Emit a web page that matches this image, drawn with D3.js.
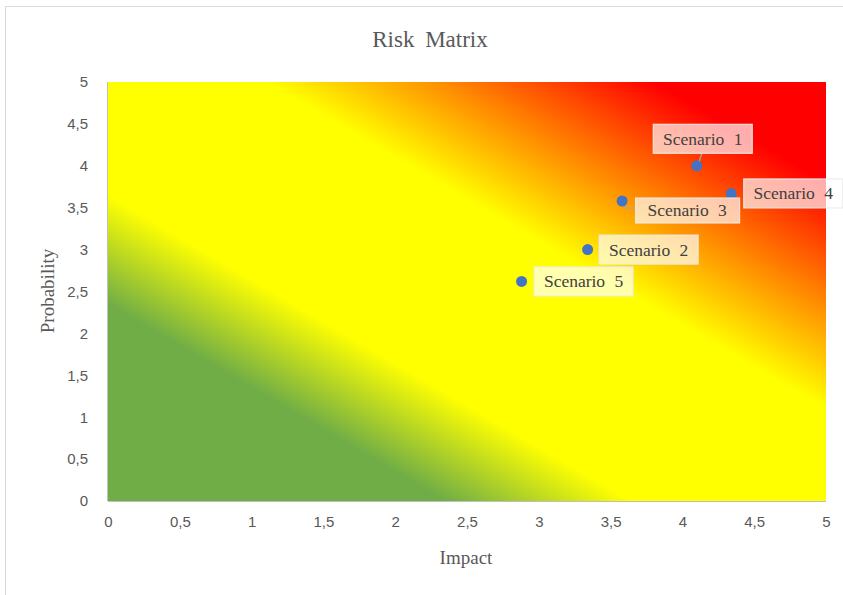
<!DOCTYPE html>
<html><head><meta charset="utf-8">
<script src="https://cdn.jsdelivr.net/npm/d3@7"></script>
<style>
html,body{margin:0;padding:0;background:#fff;}
svg{display:block;}
</style></head>
<body>
<svg id="c" width="843" height="595"></svg>
<script>
// ---- data ----
const scenarios = ["Scenario 1","Scenario 2","Scenario 3","Scenario 4","Scenario 5"];
const impact      = [4.1, 3.34, 3.58, 4.34, 2.88];
const probability = [4.0, 3.0, 3.58, 3.67, 2.62];
const xTicks = [0,0.5,1,1.5,2,2.5,3,3.5,4,4.5,5];
const yTicks = [0,0.5,1,1.5,2,2.5,3,3.5,4,4.5,5];
const tickLabel = v => String(v).replace(".", ",");
// label placement (offset of label box centre from its point, px)
const labelOffsets = [[6,-27],[61,0],[63,9],[62,0],[62,0]];

const svg = d3.select("#c");
const W = 843, H = 595;
const m = {left:108, right:826, top:82, bottom:501};

// chart border
svg.append("rect").attr("x",5.5).attr("y",6.5).attr("width",W+10).attr("height",H+10)
  .attr("fill","#fff").attr("stroke","#d9d9d9").attr("stroke-width",1);

const x = d3.scaleLinear().domain([0,5]).range([m.left,m.right]);
const y = d3.scaleLinear().domain([0,5]).range([m.bottom,m.top]);

// gradient
const defs = svg.append("defs");
const g = defs.append("linearGradient").attr("id","risk")
  .attr("x1",0).attr("y1",1).attr("x2",1).attr("y2",0);
[[0,"#70AD47"],[0.235,"#70AD47"],[0.365,"#FFFF00"],[0.61,"#FFFF00"],[0.88,"#FF0000"],[1,"#FF0000"]]
  .forEach(([o,c])=>g.append("stop").attr("offset",o).attr("stop-color",c));

svg.append("rect").attr("x",x(0)).attr("y",y(5))
  .attr("width",x(5)-x(0)).attr("height",y(0)-y(5)).attr("fill","url(#risk)");

// axes lines
svg.append("line").attr("x1",x(0)).attr("x2",x(5)).attr("y1",y(0)+0.5).attr("y2",y(0)+0.5)
  .attr("stroke","#bfbfbf");
svg.append("line").attr("x1",x(0)-0.5).attr("x2",x(0)-0.5).attr("y1",y(0)).attr("y2",y(5))
  .attr("stroke","#bfbfbf");

const tickFont = "'Liberation Sans', Arial, sans-serif";
// x axis
const xa = svg.append("g").attr("transform",`translate(0,${m.bottom})`)
  .call(d3.axisBottom(x).tickValues(xTicks).tickFormat(tickLabel).tickSize(0).tickPadding(15));
xa.select(".domain").remove();
xa.selectAll("text").attr("fill","#595959").style("font-family",tickFont).style("font-size","15px");
// y axis
const ya = svg.append("g").attr("transform",`translate(${m.left},0)`)
  .call(d3.axisLeft(y).tickValues(yTicks).tickFormat(tickLabel).tickSize(0).tickPadding(20));
ya.select(".domain").remove();
ya.selectAll("text").attr("fill","#595959").style("font-family",tickFont).style("font-size","15px");

const serif = "'Liberation Serif','Times New Roman',serif";
// title
svg.append("text").attr("x",430).attr("y",47).attr("text-anchor","middle")
  .attr("fill","#595959").style("font-family",serif).style("font-size","23px")
  .style("word-spacing","5px").text("Risk Matrix");
// axis titles
svg.append("text").attr("x",466).attr("y",564).attr("text-anchor","middle")
  .attr("fill","#595959").style("font-family",serif).style("font-size","19px").text("Impact");
svg.append("text").attr("transform",`translate(54,291) rotate(-90)`).attr("text-anchor","middle")
  .attr("fill","#595959").style("font-family",serif).style("font-size","19px").text("Probability");

// points & labels
const data = scenarios.map((s,i)=>({name:s, x:impact[i], y:probability[i], off:labelOffsets[i]}));
const bw = 99, bh = 29;

// leader lines
data.forEach(d=>{
  const px = x(d.x), py = y(d.y), cx = px+d.off[0], cy = py+d.off[1];
  if (d.name==="Scenario 1") {
    svg.append("line").attr("x1",px+2).attr("y1",py-3).attr("x2",cx-1).attr("y2",cy+bh/2)
      .attr("stroke","#a6a6a6").attr("stroke-width",1.2);
  } else if (d.name==="Scenario 3") {
    svg.append("polyline").attr("points",`${px+1},${py+2} ${px+3},${cy-2} ${cx-bw/2},${cy-2}`)
      .attr("fill","none").attr("stroke","#a6a6a6").attr("stroke-width",1.2);
  }
});

svg.selectAll("circle.pt").data(data).join("circle").attr("class","pt")
  .attr("cx",d=>x(d.x)).attr("cy",d=>y(d.y)).attr("r",5.5).attr("fill","#4472C4");

const lg = svg.selectAll("g.lbl").data(data).join("g").attr("class","lbl")
  .attr("transform",d=>`translate(${x(d.x)+d.off[0]},${y(d.y)+d.off[1]})`);
lg.append("rect").attr("x",-bw/2).attr("y",d=>d.name==="Scenario 3"?-12:-bh/2)
  .attr("width",d=>d.name==="Scenario 3"?104:bw).attr("height",d=>d.name==="Scenario 3"?25:bh)
  .attr("fill","rgba(255,255,255,0.68)").attr("stroke","rgba(235,235,235,0.9)").attr("stroke-width",1.2);
lg.append("text").attr("x",d=>d.name==="Scenario 3"?2:0).attr("y",6).attr("text-anchor","middle")
  .attr("fill","#404040").style("font-family",serif).style("font-size","17.5px")
  .style("word-spacing","5px").text(d=>d.name);
</script>
</body></html>
